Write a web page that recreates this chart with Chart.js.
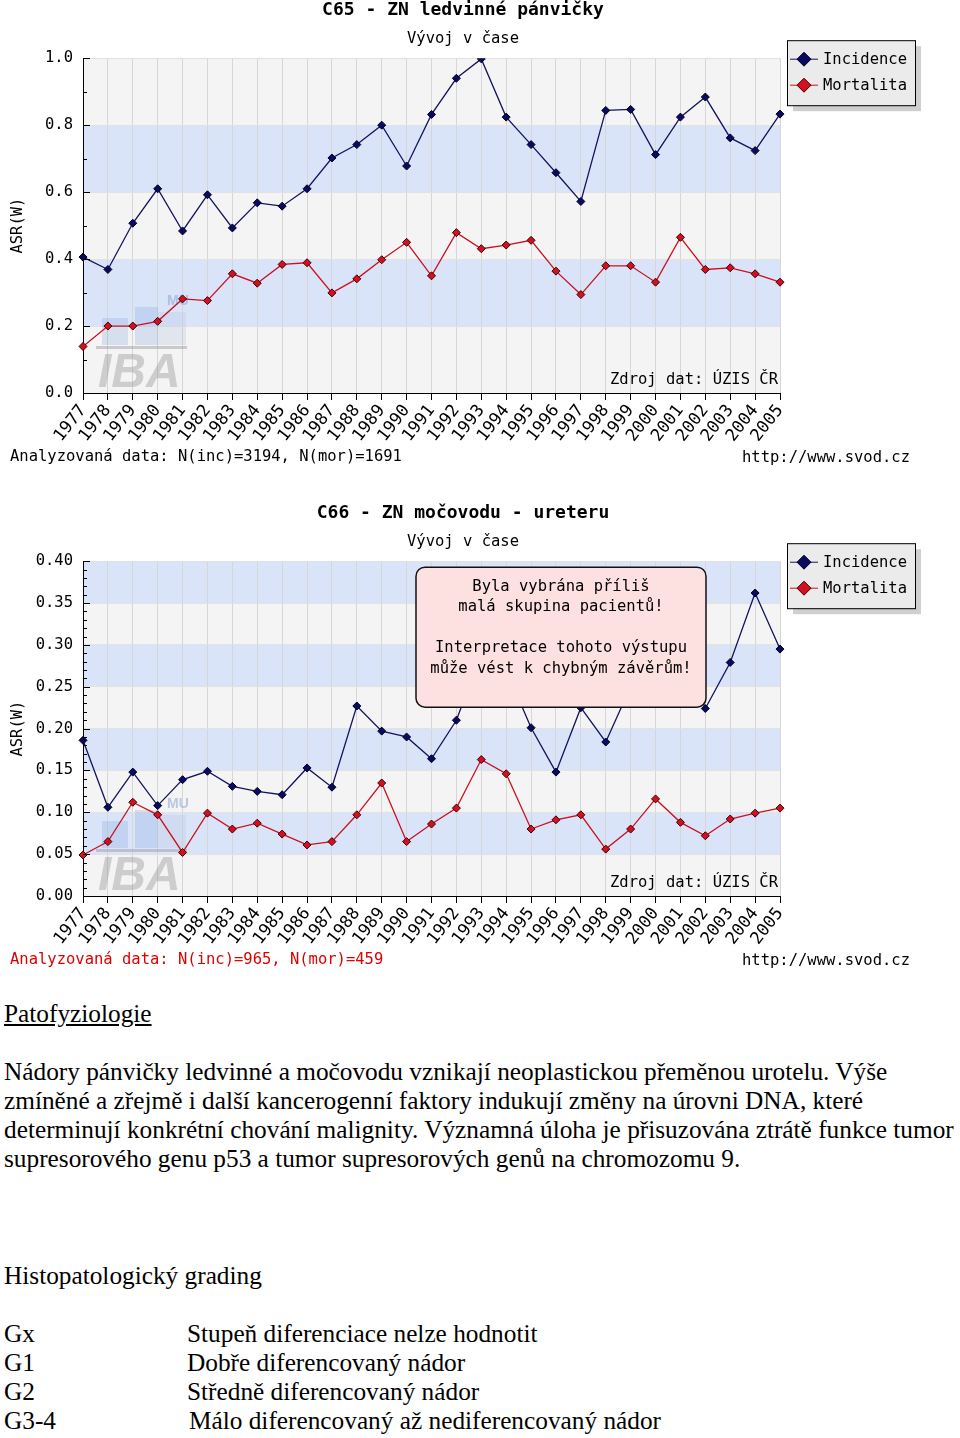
<!DOCTYPE html>
<html>
<head>
<meta charset="utf-8">
<script src="https://cdn.jsdelivr.net/npm/chart.js@4.4.1/dist/chart.umd.min.js"></script>
<style>
    body { margin: 0; background: #fff; width: 960px; height: 1438px; position: relative; overflow: hidden; }
    canvas { position: absolute; left: 0; }
    #chart65 { top: 0; }
    #chart66 { top: 503px; }
    .txt { position: absolute; left: 4px; font-family: "Liberation Serif", "Times New Roman", serif; font-size: 25.3px; line-height: 29px; color: #000; white-space: nowrap; }
    .grade { position: absolute; left: 183px; }
</style>
</head>
<body>
<canvas id="chart65" width="926" height="480"></canvas>
<canvas id="chart66" width="926" height="480"></canvas>

<div class="txt" style="top:999px; text-decoration: underline;">Patofyziologie</div>
<div class="txt" style="top:1057px;">
Nádory pánvičky ledvinné a močovodu vznikají neoplastickou přeměnou urotelu. Výše<br>
zmíněné a zřejmě i další kancerogenní faktory indukují změny na úrovni DNA, které<br>
determinují konkrétní chování malignity. Významná úloha je přisuzována ztrátě funkce tumor<br>
supresorového genu p53 a tumor supresorových genů na chromozomu 9.
</div>
<div class="txt" style="top:1261px;">Histopatologický grading</div>
<div class="txt" style="top:1319px; width: 900px; height: 120px;">
Gx<span class="grade">Stupeň diferenciace nelze hodnotit</span><br>
G1<span class="grade" style="top:29px;">Dobře diferencovaný nádor</span><br>
G2<span class="grade" style="top:58px;">Středně diferencovaný nádor</span><br>
G3-4<span class="grade" style="top:87px; left:185px;">Málo diferencovaný až nediferencovaný nádor</span>
</div>

<script>
const years = ['1977', '1978', '1979', '1980', '1981', '1982', '1983', '1984', '1985', '1986',
    '1987', '1988', '1989', '1990', '1991', '1992', '1993', '1994', '1995', '1996',
    '1997', '1998', '1999', '2000', '2001', '2002', '2003', '2004', '2005'];

// C65 - ledvinna panvicka
const incidenceC65 = [0.406, 0.369, 0.507, 0.610, 0.484, 0.592, 0.493, 0.568, 0.558, 0.610,
    0.702, 0.742, 0.800, 0.678, 0.832, 0.940, 0.998, 0.824, 0.742, 0.658,
    0.572, 0.844, 0.847, 0.712, 0.824, 0.884, 0.762, 0.724, 0.833];
const mortalityC65 = [0.139, 0.200, 0.200, 0.214, 0.281, 0.276, 0.356, 0.328, 0.384, 0.389,
    0.299, 0.341, 0.398, 0.450, 0.350, 0.479, 0.431, 0.442, 0.456, 0.364,
    0.294, 0.380, 0.380, 0.331, 0.465, 0.369, 0.374, 0.356, 0.331];

// C66 - mocovod (1993, 1994, 1999-2001 are hidden under the warning box)
const incidenceC66 = [0.186, 0.106, 0.148, 0.108, 0.139, 0.149, 0.131, 0.125, 0.121, 0.153,
    0.130, 0.227, 0.197, 0.190, 0.164, 0.210, 0.290, 0.270, 0.201, 0.148,
    0.225, 0.184, 0.250, 0.270, 0.300, 0.224, 0.279, 0.362, 0.295];
const mortalityC66 = [0.049, 0.065, 0.112, 0.097, 0.052, 0.099, 0.080, 0.087, 0.074, 0.061,
    0.065, 0.097, 0.135, 0.065, 0.086, 0.105, 0.163, 0.146, 0.080, 0.091,
    0.097, 0.056, 0.080, 0.116, 0.088, 0.072, 0.092, 0.099, 0.105];

const yTicksC65 = { max: 1.0, step: 0.2, minor: 0.1, decimals: 1 };
const yTicksC66 = { max: 0.4, step: 0.05, minor: 0.01, decimals: 2 };

const MONO = 'DejaVu Sans Mono';
const INC_COLOR = '#14145e';
const MOR_COLOR = '#cc1020';

// alternating horizontal bands behind the grid
const bandsPlugin = {
    id: 'bands',
    beforeDraw(chart, args, opts) {
        const { ctx, chartArea: a, scales: { y } } = chart;
        const n = Math.round((y.max - y.min) / opts.step);
        ctx.save();
        for (let i = 0; i < n; i++) {
            const top = y.getPixelForValue(y.min + (i + 1) * opts.step);
            const bottom = y.getPixelForValue(y.min + i * opts.step);
            ctx.fillStyle = i % 2 === 0 ? '#f4f4f4' : '#dae4f9';
            ctx.fillRect(a.left, top, a.right - a.left, bottom - top);
        }
        ctx.restore();
    }
};

// IBA / MU watermark, inner y ticks, footer texts
const decorPlugin = {
    id: 'decor',
    beforeDatasetsDraw(chart) {
        const { ctx, chartArea: a } = chart;
        const x0 = a.left, y0 = a.bottom;
        ctx.save();
        ctx.fillStyle = 'rgba(110, 150, 220, 0.22)';
        ctx.fillRect(x0 + 19, y0 - 75, 26, 27);
        ctx.fillRect(x0 + 52, y0 - 86, 23, 38);
        ctx.fillStyle = 'rgba(190, 200, 225, 0.35)';
        ctx.fillRect(x0 + 75, y0 - 81, 28, 33);
        ctx.fillStyle = 'rgba(150, 150, 150, 0.45)';
        ctx.fillRect(x0 + 13, y0 - 47, 91, 3);
        ctx.font = 'italic bold 48px "Liberation Sans"';
        ctx.fillStyle = 'rgba(150, 150, 150, 0.42)';
        ctx.textBaseline = 'alphabetic';
        ctx.fillText('IBA', x0 + 15, y0 - 6);
        ctx.font = 'bold 14px "Liberation Sans"';
        ctx.fillStyle = 'rgba(140, 160, 205, 0.55)';
        ctx.fillText('MU', x0 + 84, y0 - 88);
        ctx.restore();
    },
    afterDraw(chart, args, opts) {
        const { ctx, chartArea: a, scales: { y } } = chart;
        ctx.save();
        ctx.strokeStyle = '#000';
        ctx.lineWidth = 1;
        const n = Math.round((y.max - y.min) / opts.minor);
        const every = Math.round(opts.step / opts.minor);
        for (let i = 0; i <= n; i++) {
            const py = Math.round(y.getPixelForValue(y.min + i * opts.minor)) + 0.5;
            const len = i % every === 0 ? 7 : 4;
            ctx.beginPath();
            ctx.moveTo(a.left, py);
            ctx.lineTo(a.left + len, py);
            ctx.stroke();
        }

        ctx.font = '15.5px ' + MONO;
        ctx.fillStyle = '#000';
        ctx.textBaseline = 'middle';
        ctx.textAlign = 'right';
        ctx.fillText('Zdroj dat: ÚZIS ČR', a.right - 2, a.bottom - 13);

        ctx.textAlign = 'left';
        ctx.fillStyle = opts.nColor;
        ctx.fillText(opts.nText, 10, 457);
        ctx.fillStyle = '#000';
        ctx.fillText('http://www.svod.cz', 742, 458);

        ctx.translate(18, (a.top + a.bottom) / 2);
        ctx.rotate(-Math.PI / 2);
        ctx.textAlign = 'center';
        ctx.fillText('ASR(W)', 0, 0);
        ctx.restore();
    }
};

// legend box with drop shadow in the right margin
const boxLegendPlugin = {
    id: 'boxLegend',
    afterDraw(chart) {
        const { ctx, chartArea: a } = chart;
        const x = a.right + 7, y = a.top - 18, w = 128, h = 65;
        ctx.save();
        ctx.fillStyle = '#cfcfcf';
        ctx.fillRect(x + 6, y + 6, w, h);
        ctx.fillStyle = '#ebebeb';
        ctx.fillRect(x, y, w, h);
        ctx.strokeStyle = '#000';
        ctx.lineWidth = 1;
        ctx.strokeRect(x + 0.5, y + 0.5, w, h);
        ctx.font = '15.5px ' + MONO;
        ctx.textBaseline = 'middle';
        chart.data.datasets.forEach((ds, i) => {
            const cy = y + 19 + i * 26;
            ctx.strokeStyle = ds.borderColor;
            ctx.beginPath();
            ctx.moveTo(x + 3, cy);
            ctx.lineTo(x + 31, cy);
            ctx.stroke();
            ctx.fillStyle = ds.pointBackgroundColor;
            ctx.strokeStyle = ds.pointBorderColor;
            ctx.beginPath();
            ctx.moveTo(x + 17, cy - 7);
            ctx.lineTo(x + 24, cy);
            ctx.lineTo(x + 17, cy + 7);
            ctx.lineTo(x + 10, cy);
            ctx.closePath();
            ctx.fill();
            ctx.stroke();
            ctx.fillStyle = '#000';
            ctx.fillText(ds.label, x + 36, cy + 1);
        });
        ctx.restore();
    }
};

// "too small group" warning, only on C66
const warningPlugin = {
    id: 'warning',
    afterDatasetsDraw(chart, args, opts) {
        if (!opts.lines) return;
        const { ctx, chartArea: a } = chart;
        const x = a.left + 333, y = a.top + 6, w = 290, h = 140, r = 9;
        ctx.save();
        ctx.beginPath();
        ctx.roundRect(x, y, w, h, r);
        ctx.fillStyle = '#fde0e0';
        ctx.fill();
        ctx.strokeStyle = '#111';
        ctx.lineWidth = 1.5;
        ctx.stroke();
        ctx.font = '15.5px ' + MONO;
        ctx.fillStyle = '#000';
        ctx.textAlign = 'center';
        ctx.textBaseline = 'middle';
        const ly = [20, 40, 81, 102];
        opts.lines.forEach((t, i) => ctx.fillText(t, x + w / 2, y + ly[i]));
        ctx.restore();
    }
};

function makeChart(canvasId, title, incidence, mortality, yt, nText, nColor, warningLines) {
    const ctx = document.getElementById(canvasId).getContext('2d');
    return new Chart(ctx, {
        type: 'line',
        data: {
            labels: years,
            datasets: [{
                label: 'Incidence',
                data: incidence,
                borderColor: INC_COLOR,
                borderWidth: 1.3,
                pointStyle: 'rectRot',
                pointRadius: 4,
                pointBackgroundColor: '#0a0a60',
                pointBorderColor: '#000022',
                pointBorderWidth: 1
            }, {
                label: 'Mortalita',
                data: mortality,
                borderColor: MOR_COLOR,
                borderWidth: 1.3,
                pointStyle: 'rectRot',
                pointRadius: 4,
                pointBackgroundColor: '#d41020',
                pointBorderColor: '#3a0000',
                pointBorderWidth: 1
            }]
        },
        options: {
            responsive: false,
            animation: false,
            layout: { padding: 0 },
            plugins: {
                legend: { display: false },
                tooltip: { enabled: false },
                title: {
                    display: true,
                    text: title,
                    color: '#000',
                    font: { family: MONO, size: 18, weight: 'bold' },
                    padding: { top: 0, bottom: 8 }
                },
                subtitle: {
                    display: true,
                    text: 'Vývoj v čase',
                    color: '#000',
                    font: { family: MONO, size: 15.5 },
                    padding: { top: 0, bottom: 10 }
                },
                bands: { step: yt.step },
                decor: { minor: yt.minor, step: yt.step, nText: nText, nColor: nColor },
                warning: { lines: warningLines }
            },
            scales: {
                x: {
                    offset: false,
                    grid: { color: '#d6d6d6', tickColor: '#000', tickLength: 7 },
                    border: { color: '#000' },
                    ticks: {
                        color: '#000',
                        font: { family: MONO, size: 17 },
                        maxRotation: 52,
                        minRotation: 52,
                        autoSkip: false,
                        padding: 1
                    },
                    afterFit: function(scale) { scale.height = 87; }
                },
                y: {
                    min: 0,
                    max: yt.max,
                    grid: { color: '#e2e2e2', drawTicks: false },
                    border: { color: '#000' },
                    ticks: {
                        stepSize: yt.step,
                        color: '#000',
                        font: { family: MONO, size: 15.5 },
                        padding: 10,
                        callback: value => value.toFixed(yt.decimals)
                    },
                    afterFit: function(scale) { scale.width = 83; }
                },
                // empty right axis keeps room for the legend box
                margin: {
                    type: 'linear',
                    position: 'right',
                    min: 0,
                    max: 1,
                    grid: { display: false },
                    border: { display: false },
                    ticks: { display: false },
                    afterFit: function(scale) { scale.width = 146; }
                }
            }
        },
        plugins: [bandsPlugin, decorPlugin, boxLegendPlugin, warningPlugin]
    });
}

makeChart('chart65', 'C65 - ZN ledvinné pánvičky', incidenceC65, mortalityC65, yTicksC65,
    'Analyzovaná data: N(inc)=3194, N(mor)=1691', '#000', null);

makeChart('chart66', 'C66 - ZN močovodu - ureteru', incidenceC66, mortalityC66, yTicksC66,
    'Analyzovaná data: N(inc)=965, N(mor)=459', '#e00000', [
        'Byla vybrána příliš',
        'malá skupina pacientů!',
        'Interpretace tohoto výstupu',
        'může vést k chybným závěrům!'
    ]);
</script>
</body>
</html>
